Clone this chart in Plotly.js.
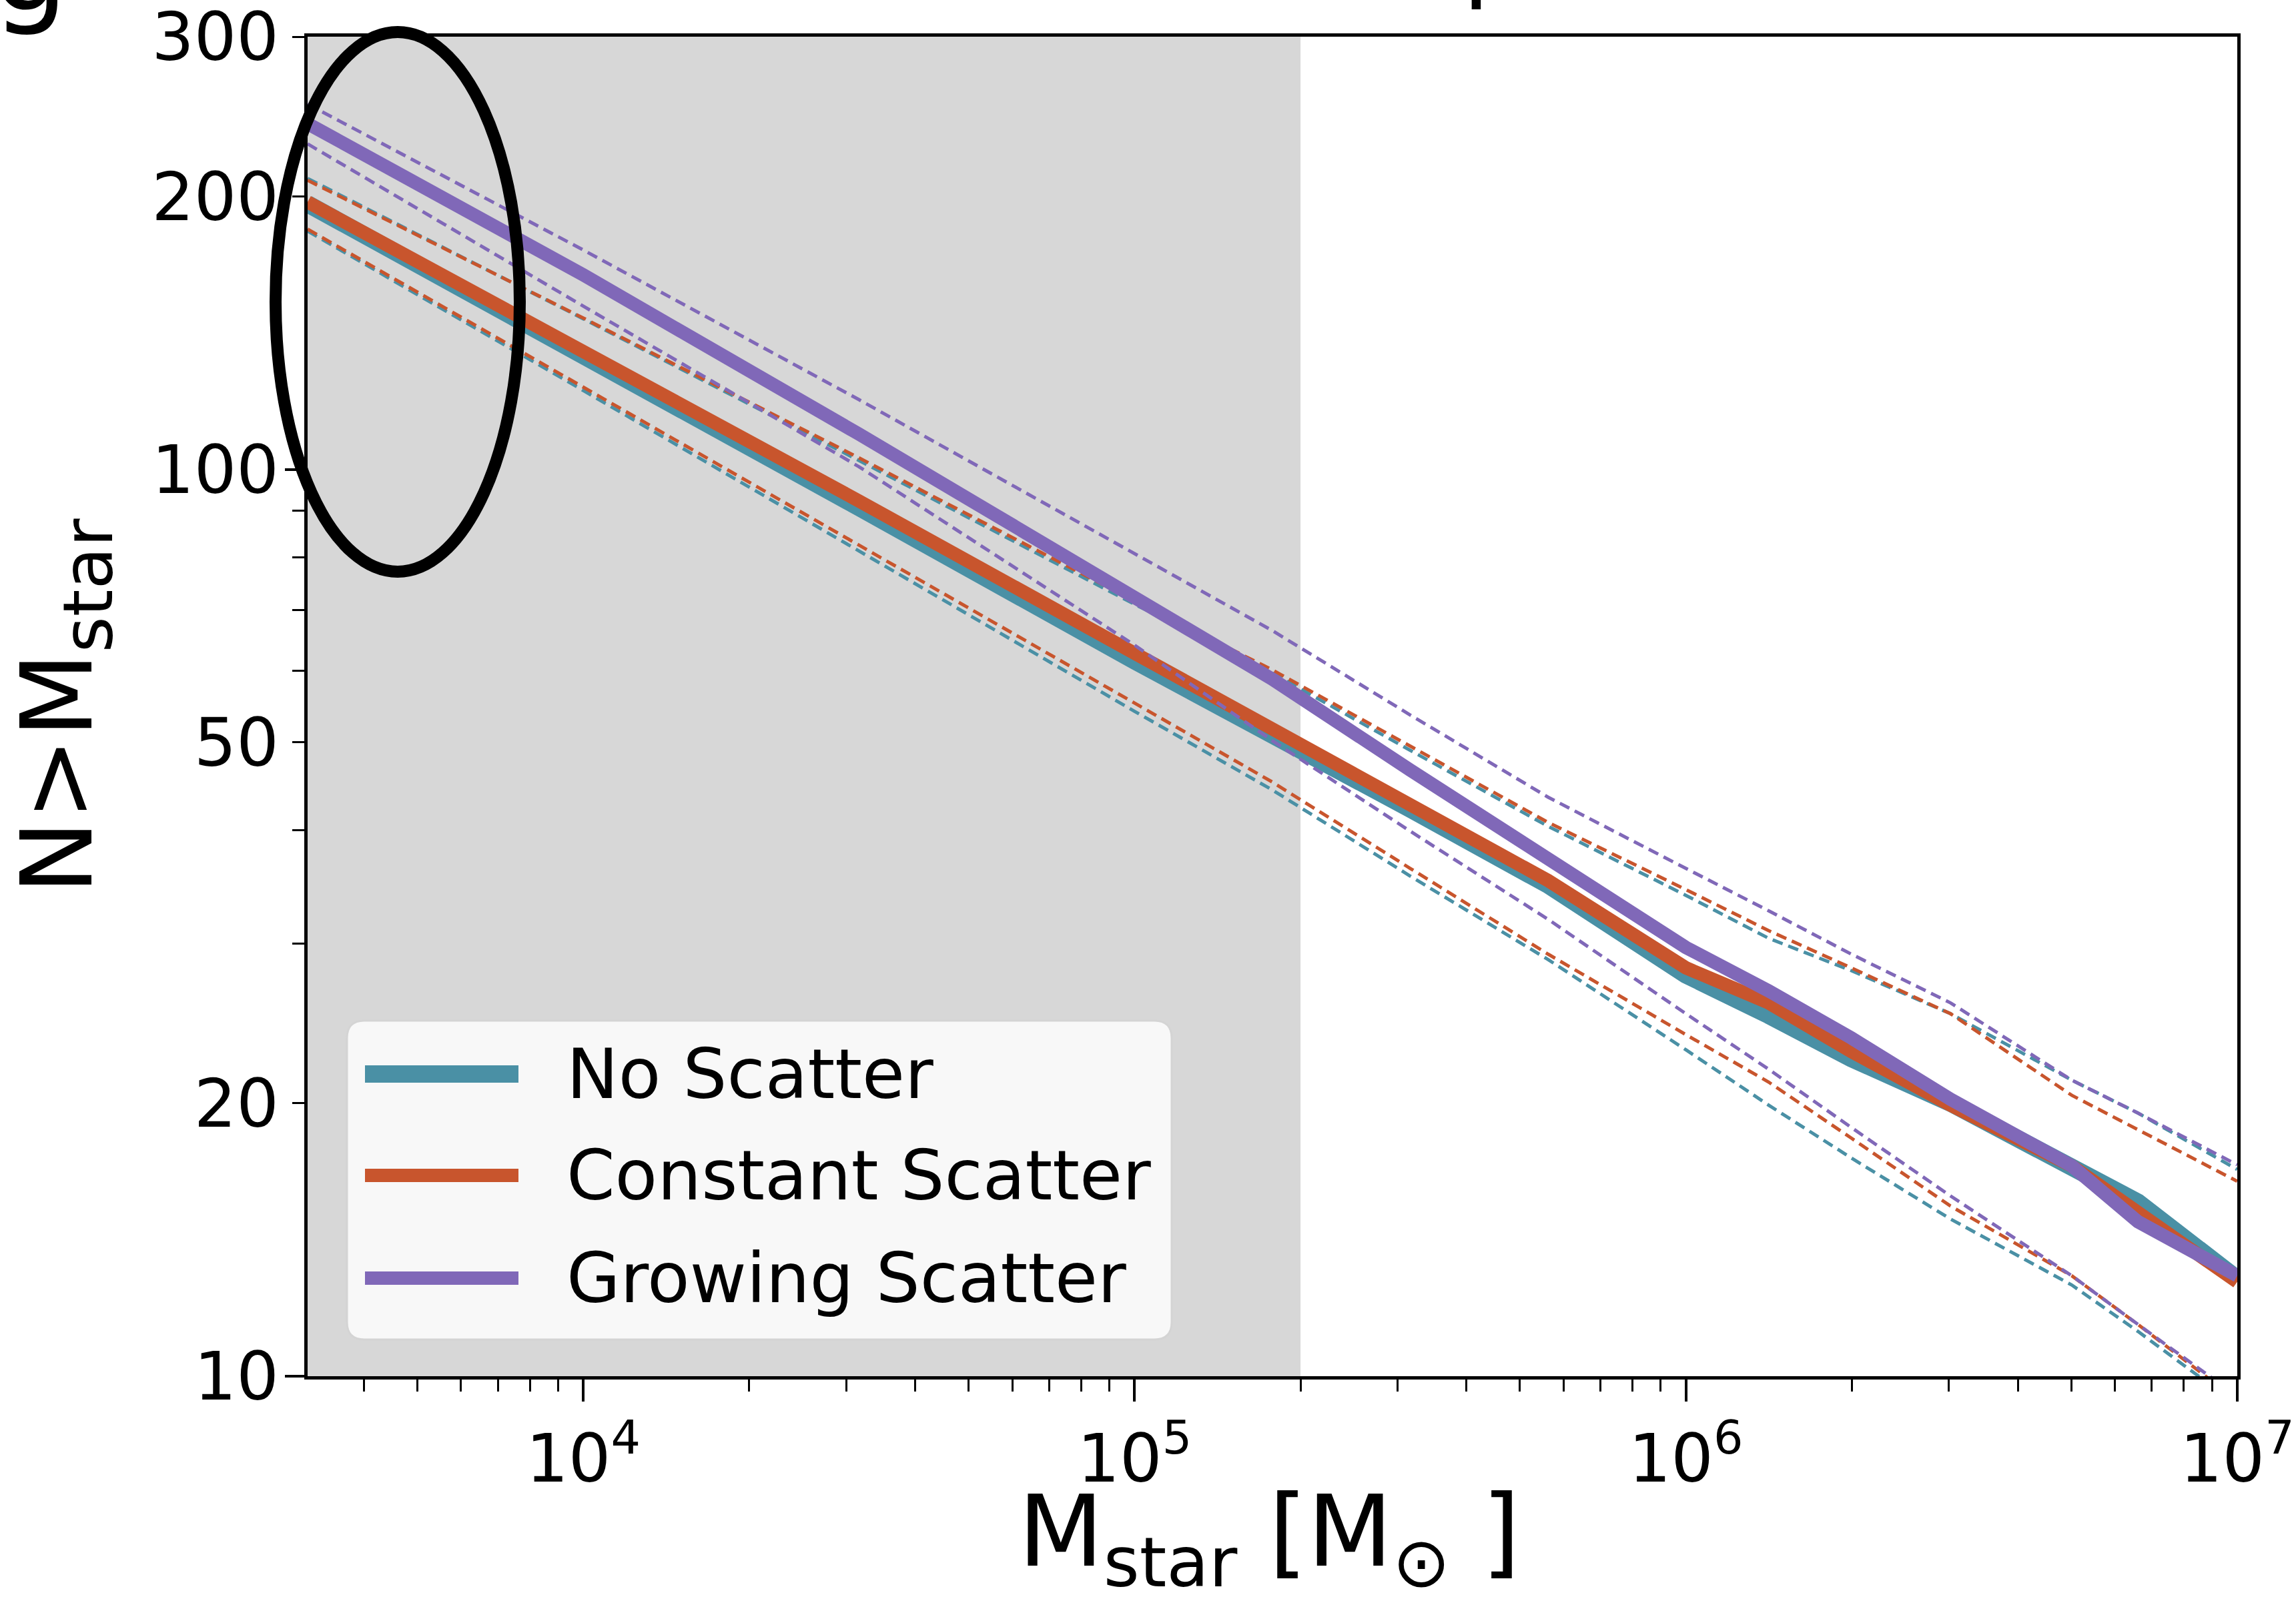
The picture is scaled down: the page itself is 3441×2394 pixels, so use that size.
<!DOCTYPE html>
<html><head><meta charset="utf-8">
<script src="https://cdn.plot.ly/plotly-3.0.1.min.js"></script>
<style>html,body{margin:0;padding:0;background:#fff;} #chart{width:3441px;height:2394px;}</style>
</head><body><div id="chart"></div>
<script>
// ---------------- data ----------------
const stellarMass = [3162, 10000, 31623, 100000, 177828, 316228, 562341, 1000000, 1412538, 1995262, 3019952, 5011872, 6606934, 10000000];

const noScatterMedian   = [196.3, 134.0, 90.8, 61.5, 51.1, 42.2, 34.8, 27.7, 25.0, 22.4, 20.0, 17.05, 15.55, 12.8];
const noScatterUpper    = [209.4, 146.6, 102.3, 71.0, 59.6, 49.0, 40.4, 33.9, 30.4, 28.0, 25.1, 21.2, 19.5, 16.9];
const noScatterLower    = [183.2, 122.2, 81.3, 54.1, 44.3, 35.6, 28.8, 22.9, 19.9, 17.4, 14.9, 12.6, 11.2, 9.3];

const constScatterMedian = [197.2, 135.1, 92.3, 62.7, 51.8, 42.7, 35.2, 28.2, 25.8, 22.8, 19.9, 17.05, 15.2, 12.7];
const constScatterUpper  = [208.4, 146.9, 103.0, 71.6, 60.1, 49.5, 40.8, 34.4, 31.0, 28.2, 25.1, 20.4, 18.7, 16.4];
const constScatterLower  = [184.1, 123.3, 82.6, 55.2, 45.2, 36.3, 29.2, 23.8, 21.1, 18.3, 15.4, 12.9, 11.4, 9.4];

const growScatterMedian = [240.7, 163.9, 109.4, 72.4, 58.7, 46.6, 37.2, 29.7, 26.6, 23.6, 20.2, 17.05, 14.8, 12.9];
const growScatterUpper  = [252.9, 174.6, 119.4, 80.7, 66.4, 53.6, 43.5, 36.3, 32.6, 29.2, 25.8, 21.2, 19.5, 17.1];
const growScatterLower  = [228.6, 151.4, 100.7, 64.0, 50.2, 39.9, 31.9, 25.1, 21.8, 18.8, 15.8, 12.9, 11.4, 9.5];

const seriesNames = ["No Scatter", "Constant Scatter", "Growing Scatter"];

const xTickVals = [1e4, 1e5, 1e6, 1e7];
const xTickText = ["10<sup>4</sup>", "10<sup>5</sup>", "10<sup>6</sup>", "10<sup>7</sup>"];
const yTickVals = [10, 20, 50, 100, 200, 300];
const yTickText = ["10", "20", "50", "100", "200", "300"];
const yMajorTicks = [10, 100];
const yMinorTicks = [30, 40, 60, 70, 80, 90];
const xRangeMin = 3162.3, xRangeMax = 1e7;
const yRangeMin = 10, yRangeMax = 300;
const shadedMassLimit = 2e5;
const xTitle = "M<sub>star</sub> [M<sub>⊙</sub> ]";
const yTitle = "N&gt;M<sub>star</sub>";

// ---------------- styling ----------------
const W = 3441, H = 2394;
const M = {l: 461, r: 88, t: 55, b: 331};
const PW = W - M.l - M.r, PH = H - M.t - M.b;
const pxX = p => (p - M.l) / PW;
const pxY = p => (H - M.b - p) / PH;
const FONT = "DejaVu Sans";
const colors = ["#4a90a5", "#c8552d", "#8068b8"];
const medWidth = [26, 20, 20];
const EPS = 2e-4;

const xMinorTicks = [];
for (let d = 3; d <= 6; d++) for (let k = 2; k <= 9; k++) {
  const v = k * Math.pow(10, d);
  if (v > xRangeMin && v < xRangeMax) xMinorTicks.push(v);
}

const models = [
  [noScatterLower, noScatterUpper, noScatterMedian],
  [constScatterLower, constScatterUpper, constScatterMedian],
  [growScatterLower, growScatterUpper, growScatterMedian]
];

const traces = [];
models.forEach((m, i) => {
  [m[0], m[1]].forEach(arr => traces.push({
    x: stellarMass, y: arr, type: "scatter", mode: "lines", showlegend: false, hoverinfo: "skip",
    line: {color: colors[i], width: 5, dash: "16px,9px"}
  }));
  traces.push({
    x: stellarMass, y: m[2], type: "scatter", mode: "lines", name: seriesNames[i], showlegend: false,
    line: {color: colors[i], width: medWidth[i]}
  });
});
traces.push({x: [], y: [], yaxis: "y2", type: "scatter", showlegend: false, hoverinfo: "skip"});

// custom legend
const lg = {x0: pxX(520), x1: pxX(1756), yt: pxY(1530), yb: pxY(2008)};
const rx = 26 / PW, ry = 26 / PH;
const legendPath = `M ${lg.x0 + rx},${lg.yb} L ${lg.x1 - rx},${lg.yb} Q ${lg.x1},${lg.yb} ${lg.x1},${lg.yb + ry} L ${lg.x1},${lg.yt - ry} Q ${lg.x1},${lg.yt} ${lg.x1 - rx},${lg.yt} L ${lg.x0 + rx},${lg.yt} Q ${lg.x0},${lg.yt} ${lg.x0},${lg.yt - ry} L ${lg.x0},${lg.yb + ry} Q ${lg.x0},${lg.yb} ${lg.x0 + rx},${lg.yb} Z`;
const legendRows = [1610, 1762, 1916];

const shapes = [
  {type: "rect", xref: "x", yref: "paper", x0: xRangeMin, x1: shadedMassLimit, y0: 0, y1: 1,
   fillcolor: "#d7d7d7", line: {width: 0}, layer: "below"},
  {type: "path", xref: "paper", yref: "paper", path: legendPath, fillcolor: "#f8f8f8",
   line: {color: "#d4d4d4", width: 3}, layer: "above"}
];
legendRows.forEach((py, i) => shapes.push({
  type: "line", xref: "paper", yref: "paper", x0: pxX(547), x1: pxX(777), y0: pxY(py), y1: pxY(py),
  line: {color: colors[i], width: medWidth[i]}, layer: "above"
}));
shapes.push({type: "circle", xref: "paper", yref: "paper", x0: pxX(413), x1: pxX(779), y0: pxY(857), y1: pxY(48),
  line: {color: "#000", width: 18}, layer: "above"});

const annotations = legendRows.map((py, i) => ({
  xref: "paper", yref: "paper", x: pxX(847), y: pxY(py), xanchor: "left", yanchor: "middle",
  text: seriesNames[i], showarrow: false, font: {family: FONT, size: 104, color: "#000"}
}));
// x axis title
annotations.push({xref: "paper", yref: "paper", x: pxX(1902), y: pxY(2208), xanchor: "center", yanchor: "top",
  text: xTitle, showarrow: false, font: {family: FONT, size: 148, color: "#000"}});
// fragments of the cropped heading above the chart
annotations.push({xref: "paper", yref: "paper", x: pxX(-14), y: pxY(58), xanchor: "left", yanchor: "bottom",
  text: "g", showarrow: false, font: {family: FONT, size: 180, color: "#000"}});
annotations.push({xref: "paper", yref: "paper", x: pxX(2190), y: pxY(20), xanchor: "left", yanchor: "bottom",
  text: "p", showarrow: false, font: {family: FONT, size: 150, color: "#000"}});

const axisBase = {
  type: "log", showline: true, linecolor: "#000", linewidth: 5, mirror: true,
  ticks: "outside", tickcolor: "#000", tickwidth: 4, ticklen: 33, ticklabeloverflow: "allow",
  showgrid: false, zeroline: false, tickfont: {family: FONT, size: 100, color: "#000"}
};

const yRange = [Math.log10(yRangeMin) - EPS, Math.log10(yRangeMax) + EPS];

const layout = {
  width: W, height: H, margin: M, paper_bgcolor: "#fff", plot_bgcolor: "#fff",
  font: {family: FONT, color: "#000"}, showlegend: false,
  xaxis: Object.assign({}, axisBase, {
    range: [Math.log10(xRangeMin), Math.log10(xRangeMax) + EPS], tickmode: "array",
    tickvals: xTickVals, ticktext: xTickText,
    minor: {tickmode: "array", tickvals: xMinorTicks, ticks: "outside", ticklen: 18, tickwidth: 3, tickcolor: "#000", showgrid: false}
  }),
  yaxis: Object.assign({}, axisBase, {
    range: yRange, tickmode: "array",
    tickvals: yTickVals, ticktext: yTickText, ticklen: 18, tickwidth: 3,
    minor: {tickmode: "array", tickvals: yMinorTicks, ticks: "outside", ticklen: 18, tickwidth: 3, tickcolor: "#000", showgrid: false},
    title: {text: yTitle, font: {family: FONT, size: 148, color: "#000"}, standoff: 50}
  }),
  yaxis2: {
    type: "log", overlaying: "y", anchor: "x", side: "left",
    range: yRange, tickmode: "array", tickvals: yMajorTicks,
    ticks: "outside", ticklen: 33, tickwidth: 4, tickcolor: "#000",
    showticklabels: false, showline: false, showgrid: false, zeroline: false
  },
  shapes: shapes, annotations: annotations
};

Plotly.newPlot("chart", traces, layout, {displayModeBar: false, staticPlot: true});
</script></body></html>
